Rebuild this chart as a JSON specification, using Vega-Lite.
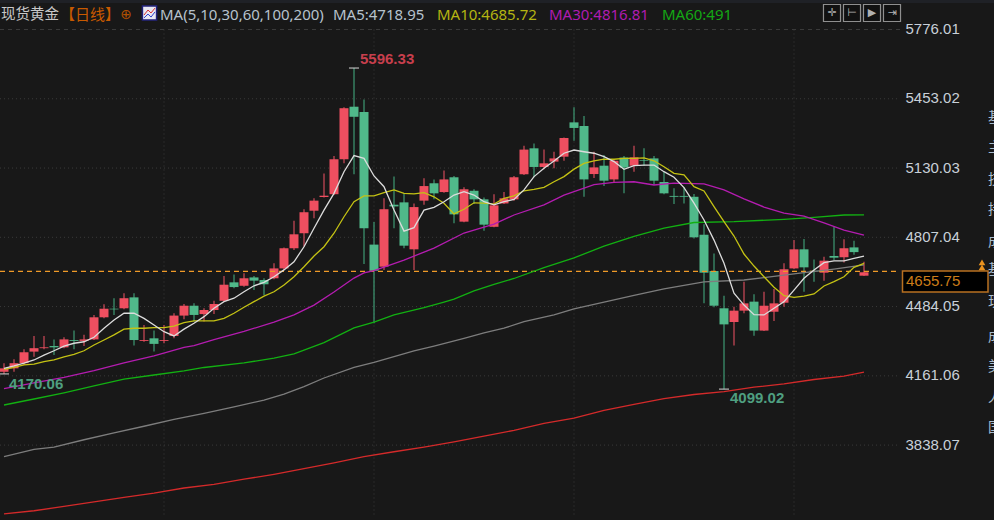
{"$schema":"https://vega.github.io/schema/vega-lite/v6.json","width":994,"height":520,"autosize":"none","padding":0,"background":"#181818","config":{"view":{"stroke":null}},
"datasets":{
"candles":[
{"i":0,"d":"u","o":4180,"h":4220,"l":4170.06,"c":4196},{"i":1,"d":"u","o":4196,"h":4238,"l":4180,"c":4220},{"i":2,"d":"u","o":4220,"h":4285,"l":4212,"c":4271},{"i":3,"d":"u","o":4274,"h":4347,"l":4250,"c":4290},{"i":4,"d":"u","o":4290,"h":4347,"l":4285,"c":4294},{"i":5,"d":"d","o":4300,"h":4331,"l":4258,"c":4294},{"i":6,"d":"u","o":4294,"h":4341,"l":4290,"c":4331},{"i":7,"d":"d","o":4328,"h":4372,"l":4285,"c":4324},{"i":8,"d":"u","o":4324,"h":4353,"l":4300,"c":4331},{"i":9,"d":"u","o":4331,"h":4445,"l":4328,"c":4434},
{"i":10,"d":"u","o":4434,"h":4495,"l":4429,"c":4474},{"i":11,"d":"d","o":4474,"h":4523,"l":4445,"c":4471},{"i":12,"d":"u","o":4476,"h":4546,"l":4471,"c":4523},{"i":13,"d":"d","o":4527,"h":4546,"l":4302,"c":4328},{"i":14,"d":"u","o":4324,"h":4398,"l":4320,"c":4328},{"i":15,"d":"d","o":4336,"h":4372,"l":4274,"c":4310},{"i":16,"d":"u","o":4324,"h":4398,"l":4313,"c":4328},{"i":17,"d":"u","o":4347,"h":4453,"l":4336,"c":4442},{"i":18,"d":"u","o":4442,"h":4496,"l":4425,"c":4488},{"i":19,"d":"d","o":4488,"h":4499,"l":4414,"c":4445},
{"i":20,"d":"u","o":4449,"h":4476,"l":4414,"c":4468},{"i":21,"d":"u","o":4468,"h":4511,"l":4449,"c":4496},{"i":22,"d":"u","o":4511,"h":4627,"l":4507,"c":4586},{"i":23,"d":"d","o":4597,"h":4634,"l":4569,"c":4575},{"i":24,"d":"u","o":4581,"h":4639,"l":4577,"c":4616},{"i":25,"d":"d","o":4620,"h":4627,"l":4561,"c":4605},{"i":26,"d":"d","o":4608,"h":4616,"l":4538,"c":4588},{"i":27,"d":"u","o":4616,"h":4686,"l":4611,"c":4662},{"i":28,"d":"u","o":4662,"h":4760,"l":4655,"c":4756},{"i":29,"d":"u","o":4756,"h":4884,"l":4748,"c":4821},
{"i":30,"d":"u","o":4826,"h":4938,"l":4763,"c":4924},{"i":31,"d":"u","o":4931,"h":4989,"l":4896,"c":4978},{"i":32,"d":"u","o":4995,"h":5105,"l":4993,"c":5001},{"i":33,"d":"u","o":5008,"h":5186,"l":5004,"c":5171},{"i":34,"d":"u","o":5171,"h":5413,"l":5152,"c":5409},{"i":35,"d":"d","o":5416,"h":5596.33,"l":5101,"c":5369},{"i":36,"d":"d","o":5391,"h":5450,"l":4683,"c":4849},{"i":37,"d":"d","o":4773,"h":4878,"l":4406,"c":4651},{"i":38,"d":"u","o":4670,"h":4989,"l":4655,"c":4938},{"i":39,"d":"d","o":4959,"h":5090,"l":4849,"c":4951},
{"i":40,"d":"d","o":4970,"h":5012,"l":4756,"c":4768},{"i":41,"d":"u","o":4751,"h":4965,"l":4655,"c":4948},{"i":42,"d":"u","o":4978,"h":5082,"l":4959,"c":5046},{"i":43,"d":"d","o":5059,"h":5077,"l":4984,"c":5012},{"i":44,"d":"u","o":5018,"h":5118,"l":5015,"c":5077},{"i":45,"d":"d","o":5087,"h":5093,"l":4872,"c":4914},{"i":46,"d":"u","o":4880,"h":5040,"l":4877,"c":5031},{"i":47,"d":"d","o":5024,"h":5031,"l":4962,"c":4984},{"i":48,"d":"d","o":4984,"h":4993,"l":4838,"c":4866},{"i":49,"d":"u","o":4856,"h":5008,"l":4854,"c":4956},
{"i":50,"d":"u","o":4965,"h":5018,"l":4962,"c":4989},{"i":51,"d":"u","o":4984,"h":5093,"l":4978,"c":5087},{"i":52,"d":"u","o":5101,"h":5234,"l":5098,"c":5216},{"i":53,"d":"d","o":5222,"h":5245,"l":5087,"c":5135},{"i":54,"d":"u","o":5135,"h":5217,"l":5124,"c":5152},{"i":55,"d":"u","o":5160,"h":5206,"l":5129,"c":5175},{"i":56,"d":"u","o":5183,"h":5273,"l":5164,"c":5270},{"i":57,"d":"d","o":5343,"h":5413,"l":5257,"c":5317},{"i":58,"d":"d","o":5326,"h":5373,"l":4996,"c":5077},{"i":59,"d":"u","o":5102,"h":5206,"l":5083,"c":5133},
{"i":60,"d":"d","o":5141,"h":5191,"l":5046,"c":5071},{"i":61,"d":"u","o":5077,"h":5171,"l":5065,"c":5164},{"i":62,"d":"d","o":5179,"h":5186,"l":5012,"c":5132},{"i":63,"d":"u","o":5141,"h":5234,"l":5113,"c":5180},{"i":64,"d":"d","o":5167,"h":5222,"l":5140,"c":5164},{"i":65,"d":"d","o":5175,"h":5186,"l":5051,"c":5071},{"i":66,"d":"d","o":5065,"h":5113,"l":5008,"c":5012},{"i":67,"d":"d","o":5000,"h":5036,"l":4962,"c":4996},{"i":68,"d":"d","o":5000,"h":5040,"l":4965,"c":4996},{"i":69,"d":"d","o":4996,"h":5009,"l":4802,"c":4807},
{"i":70,"d":"d","o":4819,"h":4868,"l":4499,"c":4642},{"i":71,"d":"d","o":4650,"h":4732,"l":4481,"c":4488},{"i":72,"d":"d","o":4476,"h":4535,"l":4099.02,"c":4401},{"i":73,"d":"u","o":4412,"h":4483,"l":4302,"c":4465},{"i":74,"d":"u","o":4465,"h":4600,"l":4453,"c":4499},{"i":75,"d":"d","o":4507,"h":4541,"l":4348,"c":4372},{"i":76,"d":"u","o":4372,"h":4553,"l":4370,"c":4488},{"i":77,"d":"u","o":4460,"h":4566,"l":4417,"c":4499},{"i":78,"d":"u","o":4502,"h":4686,"l":4483,"c":4658},{"i":79,"d":"u","o":4662,"h":4794,"l":4659,"c":4751},
{"i":80,"d":"d","o":4751,"h":4799,"l":4553,"c":4667},{"i":81,"d":"d","o":4651,"h":4704,"l":4600,"c":4648},{"i":82,"d":"u","o":4642,"h":4716,"l":4605,"c":4698},{"i":83,"d":"d","o":4720,"h":4856,"l":4701,"c":4712},{"i":84,"d":"u","o":4714,"h":4798,"l":4689,"c":4756},{"i":85,"d":"d","o":4760,"h":4791,"l":4726,"c":4738},{"i":86,"d":"u","o":4628,"h":4693,"l":4627,"c":4644}],
"ma5":[{"i":0,"v":4196},{"i":1,"v":4207},{"i":2,"v":4220},{"i":3,"v":4235},{"i":4,"v":4258},{"i":5,"v":4278},{"i":6,"v":4300},{"i":7,"v":4313},{"i":8,"v":4320},{"i":9,"v":4341},{"i":10,"v":4383},{"i":11,"v":4421},{"i":12,"v":4453},{"i":13,"v":4453},{"i":14,"v":4429},{"i":15,"v":4398},{"i":16,"v":4367},{"i":17,"v":4347},{"i":18,"v":4379},{"i":19,"v":4406},{"i":20,"v":4437},{"i":21,"v":4476},{"i":22,"v":4507},{"i":23,"v":4523},{"i":24,"v":4553},{"i":25,"v":4581},{"i":26,"v":4597},{"i":27,"v":4623},{"i":28,"v":4655},{"i":29,"v":4693},{"i":30,"v":4763},{"i":31,"v":4849},{"i":32,"v":4934},{"i":33,"v":5012},{"i":34,"v":5113},{"i":35,"v":5188},{"i":36,"v":5175},{"i":37,"v":5093},{"i":38,"v":5043},{"i":39,"v":4934},{"i":40,"v":4836},{"i":41,"v":4852},{"i":42,"v":4934},{"i":43,"v":4947},{"i":44,"v":4973},{"i":45,"v":5004},{"i":46,"v":5020},{"i":47,"v":5004},{"i":48,"v":4973},{"i":49,"v":4958},{"i":50,"v":4973},{"i":51,"v":4984},{"i":52,"v":5028},{"i":53,"v":5090},{"i":54,"v":5129},{"i":55,"v":5163},{"i":56,"v":5199},{"i":57,"v":5214},{"i":58,"v":5206},{"i":59,"v":5199},{"i":60,"v":5183},{"i":61,"v":5160},{"i":62,"v":5124},{"i":63,"v":5141},{"i":64,"v":5144},{"i":65,"v":5144},{"i":66,"v":5113},{"i":67,"v":5087},{"i":68,"v":5039},{"i":69,"v":4966},{"i":70,"v":4888},{"i":71,"v":4794},{"i":72,"v":4686},{"i":73,"v":4546},{"i":74,"v":4491},{"i":75,"v":4446},{"i":76,"v":4445},{"i":77,"v":4476},{"i":78,"v":4507},{"i":79,"v":4561},{"i":80,"v":4616},{"i":81,"v":4655},{"i":82,"v":4689},{"i":83,"v":4697},{"i":84,"v":4697},{"i":85,"v":4709},{"i":86,"v":4718.95}],
"ma10":[{"i":0,"v":4191},{"i":1,"v":4201},{"i":2,"v":4212},{"i":3,"v":4216},{"i":4,"v":4227},{"i":5,"v":4235},{"i":6,"v":4250},{"i":7,"v":4261},{"i":8,"v":4278},{"i":9,"v":4305},{"i":10,"v":4328},{"i":11,"v":4352},{"i":12,"v":4379},{"i":13,"v":4383},{"i":14,"v":4383},{"i":15,"v":4386},{"i":16,"v":4386},{"i":17,"v":4393},{"i":18,"v":4409},{"i":19,"v":4417},{"i":20,"v":4417},{"i":21,"v":4417},{"i":22,"v":4429},{"i":23,"v":4453},{"i":24,"v":4481},{"i":25,"v":4507},{"i":26,"v":4533},{"i":27,"v":4553},{"i":28,"v":4585},{"i":29,"v":4623},{"i":30,"v":4670},{"i":31,"v":4720},{"i":32,"v":4763},{"i":33,"v":4826},{"i":34,"v":4903},{"i":35,"v":4973},{"i":36,"v":5000},{"i":37,"v":5000},{"i":38,"v":5015},{"i":39,"v":5028},{"i":40,"v":5012},{"i":41,"v":5010},{"i":42,"v":5015},{"i":43,"v":4996},{"i":44,"v":4966},{"i":45,"v":4916},{"i":46,"v":4938},{"i":47,"v":4968},{"i":48,"v":4966},{"i":49,"v":4962},{"i":50,"v":4989},{"i":51,"v":5000},{"i":52,"v":5024},{"i":53,"v":5031},{"i":54,"v":5040},{"i":55,"v":5066},{"i":56,"v":5090},{"i":57,"v":5125},{"i":58,"v":5152},{"i":59,"v":5163},{"i":60,"v":5172},{"i":61,"v":5171},{"i":62,"v":5175},{"i":63,"v":5175},{"i":64,"v":5177},{"i":65,"v":5164},{"i":66,"v":5136},{"i":67,"v":5105},{"i":68,"v":5098},{"i":69,"v":5043},{"i":70,"v":5023},{"i":71,"v":4950},{"i":72,"v":4880},{"i":73,"v":4813},{"i":74,"v":4729},{"i":75,"v":4673},{"i":76,"v":4623},{"i":77,"v":4574},{"i":78,"v":4535},{"i":79,"v":4527},{"i":80,"v":4533},{"i":81,"v":4543},{"i":82,"v":4580},{"i":83,"v":4600},{"i":84,"v":4623},{"i":85,"v":4667},{"i":86,"v":4685.72}],
"ma30":[{"i":0,"v":4101},{"i":3,"v":4128},{"i":6,"v":4154},{"i":9,"v":4185},{"i":12,"v":4222},{"i":15,"v":4254},{"i":18,"v":4294},{"i":19,"v":4302},{"i":21,"v":4330},{"i":24,"v":4368},{"i":27,"v":4412},{"i":29,"v":4445},{"i":31,"v":4491},{"i":33,"v":4552},{"i":35,"v":4617},{"i":36,"v":4641},{"i":37,"v":4652},{"i":40,"v":4701},{"i":42,"v":4738},{"i":43,"v":4757},{"i":46,"v":4827},{"i":49,"v":4869},{"i":51,"v":4911},{"i":54,"v":4958},{"i":56,"v":5004},{"i":59,"v":5053},{"i":61,"v":5063},{"i":63,"v":5066},{"i":65,"v":5051},{"i":67,"v":5060},{"i":70,"v":5056},{"i":72,"v":5028},{"i":74,"v":4986},{"i":76,"v":4948},{"i":78,"v":4920},{"i":80,"v":4906},{"i":82,"v":4874},{"i":84,"v":4841},{"i":86,"v":4816.81}],
"ma60":[{"i":0,"v":4025},{"i":3,"v":4053},{"i":6,"v":4082},{"i":9,"v":4114},{"i":12,"v":4146},{"i":15,"v":4165},{"i":18,"v":4184},{"i":20,"v":4200},{"i":24,"v":4221},{"i":27,"v":4244},{"i":29,"v":4263},{"i":32,"v":4316},{"i":35,"v":4385},{"i":37,"v":4411},{"i":39,"v":4445},{"i":42,"v":4479},{"i":44,"v":4505},{"i":45,"v":4519},{"i":47,"v":4557},{"i":49,"v":4587},{"i":51,"v":4615},{"i":54,"v":4666},{"i":57,"v":4711},{"i":60,"v":4766},{"i":63,"v":4811},{"i":66,"v":4850},{"i":69,"v":4876},{"i":73,"v":4880},{"i":78,"v":4891},{"i":81,"v":4900},{"i":84,"v":4911},{"i":86,"v":4912}],
"ma100":[{"i":0,"v":3784},{"i":3,"v":3818},{"i":5,"v":3829},{"i":8,"v":3863},{"i":11,"v":3895},{"i":14,"v":3926},{"i":17,"v":3958},{"i":20,"v":3986},{"i":23,"v":4016},{"i":26,"v":4048},{"i":28,"v":4076},{"i":30,"v":4111},{"i":32,"v":4151},{"i":35,"v":4201},{"i":37,"v":4224},{"i":41,"v":4277},{"i":43,"v":4300},{"i":46,"v":4336},{"i":48,"v":4361},{"i":50,"v":4383},{"i":52,"v":4414},{"i":55,"v":4445},{"i":57,"v":4473},{"i":60,"v":4505},{"i":63,"v":4536},{"i":66,"v":4567},{"i":70,"v":4599},{"i":74,"v":4608},{"i":77,"v":4625},{"i":80,"v":4642},{"i":83,"v":4659},{"i":86,"v":4678}],
"ma200":[{"i":0,"v":3517},{"i":3,"v":3532},{"i":6,"v":3552},{"i":9,"v":3573},{"i":12,"v":3594},{"i":15,"v":3614},{"i":18,"v":3638},{"i":21,"v":3655},{"i":24,"v":3679},{"i":27,"v":3702},{"i":30,"v":3728},{"i":33,"v":3755},{"i":36,"v":3784},{"i":39,"v":3807},{"i":42,"v":3829},{"i":45,"v":3853},{"i":48,"v":3880},{"i":51,"v":3907},{"i":54,"v":3939},{"i":57,"v":3964},{"i":60,"v":4000},{"i":63,"v":4028},{"i":66,"v":4055},{"i":69,"v":4074},{"i":72,"v":4087},{"i":75,"v":4108},{"i":78,"v":4124},{"i":81,"v":4144},{"i":84,"v":4160},{"i":86,"v":4178}]
},
"layer":[
{"data":{"values":[{"a":-0.4,"b":99,"p":5899.6,"q":5913.6}]},"mark":{"type":"rect","fill":"#1f2126"},"encoding":{"x":{"field":"a","type":"quantitative","scale":{"domain":[-0.4,99],"nice":false,"zero":false,"padding":0},"axis":null},"x2":{"field":"b"},"y":{"field":"p","type":"quantitative","scale":{"domain":[3488.8,5913.6],"nice":false,"zero":false,"padding":0},"axis":{"orient":"right","offset":-89,"values":[5776.01,5453.02,5130.03,4807.04,4484.05,4161.06,3838.07],"format":".2f","domain":false,"ticks":false,"grid":false,"title":null,"labelPadding":0,"labelOffset":-1,"labelFont":"Liberation Sans","labelFontSize":15,"labelColor":"#c9d0d8","labelAlign":"left","labelBaseline":"middle"}},"y2":{"field":"q"}}},
{"data":{"values":[{"p":5453.02},{"p":5130.03},{"p":4807.04},{"p":4484.05},{"p":4161.06},{"p":3838.07}]},"mark":{"type":"rule","color":"#3a3a3a","strokeDash":[1,3],"strokeWidth":1},"encoding":{"x":{"datum":-0.4,"type":"quantitative"},"x2":{"datum":89.6},"y":{"field":"p","type":"quantitative"}}},
{"data":{"values":[{"p":5776.01}]},"mark":{"type":"rule","color":"#3a3a3a","strokeDash":[4,4],"strokeWidth":1},"encoding":{"x":{"datum":-0.4,"type":"quantitative"},"x2":{"datum":89.6},"y":{"field":"p","type":"quantitative"}}},
{"data":{"values":[{"i":16},{"i":37},{"i":57},{"i":79}]},"mark":{"type":"rule","color":"#3a3a3a","strokeDash":[1,3],"strokeWidth":1},"encoding":{"x":{"field":"i","type":"quantitative"},"y":{"datum":5776.01,"type":"quantitative"},"y2":{"datum":3512}}},
{"data":{"name":"candles"},"mark":{"type":"rule","strokeWidth":1.2},"encoding":{"x":{"field":"i","type":"quantitative"},"y":{"field":"l","type":"quantitative"},"y2":{"field":"h"},"color":{"field":"d","type":"nominal","scale":{"domain":["u","d"],"range":["#d04a5a","#3f9a74"]},"legend":null}}},
{"data":{"name":"candles"},"mark":{"type":"bar","orient":"vertical","size":9},"encoding":{"x":{"field":"i","type":"quantitative"},"y":{"field":"o","type":"quantitative"},"y2":{"field":"c"},"fill":{"field":"d","type":"nominal","scale":{"domain":["u","d"],"range":["#ef4f60","#50b98a"]},"legend":null}}},
{"data":{"values":[{"p":4648}]},"mark":{"type":"rule","stroke":"#f09a28","opacity":1,"strokeDash":[5,4],"strokeWidth":1.4},"encoding":{"x":{"datum":-0.4,"type":"quantitative"},"x2":{"datum":89.6},"y":{"field":"p","type":"quantitative"},"color":{"value":"#f09a28"}}},
{"data":{"name":"ma200"},"mark":{"type":"line","stroke":"#d42a2a","strokeWidth":1.3},"encoding":{"x":{"field":"i","type":"quantitative"},"y":{"field":"v","type":"quantitative"}}},
{"data":{"name":"ma100"},"mark":{"type":"line","stroke":"#7d7d7d","strokeWidth":1.3},"encoding":{"x":{"field":"i","type":"quantitative"},"y":{"field":"v","type":"quantitative"}}},
{"data":{"name":"ma60"},"mark":{"type":"line","stroke":"#12b012","strokeWidth":1.3},"encoding":{"x":{"field":"i","type":"quantitative"},"y":{"field":"v","type":"quantitative"}}},
{"data":{"name":"ma30"},"mark":{"type":"line","stroke":"#b41cb0","strokeWidth":1.3},"encoding":{"x":{"field":"i","type":"quantitative"},"y":{"field":"v","type":"quantitative"}}},
{"data":{"name":"ma10"},"mark":{"type":"line","stroke":"#c4c214","strokeWidth":1.3},"encoding":{"x":{"field":"i","type":"quantitative"},"y":{"field":"v","type":"quantitative"}}},
{"data":{"name":"ma5"},"mark":{"type":"line","stroke":"#dcdcdc","strokeWidth":1.3},"encoding":{"x":{"field":"i","type":"quantitative"},"y":{"field":"v","type":"quantitative"}}},
{"data":{"values":[{"i":0,"p":4170.06},{"i":35,"p":5596.33},{"i":72,"p":4099.02}]},"mark":{"type":"tick","orient":"horizontal","size":10,"thickness":1.5,"color":"#cfcfcf"},"encoding":{"x":{"field":"i","type":"quantitative"},"y":{"field":"p","type":"quantitative"}}},
{"data":{"values":[{"i":35.6,"p":5638,"t":"5596.33"}]},"mark":{"type":"text","align":"left","baseline":"middle","font":"Liberation Sans","fontSize":15,"fontWeight":"bold","fill":"#c73f4d"},"encoding":{"x":{"field":"i","type":"quantitative"},"y":{"field":"p","type":"quantitative"},"text":{"field":"t"}}},
{"data":{"values":[{"i":72.6,"p":4058,"t":"4099.02"},{"i":0.5,"p":4123,"t":"4170.06"}]},"mark":{"type":"text","align":"left","baseline":"middle","font":"Liberation Sans","fontSize":15,"fontWeight":"bold","fill":"#4f9f80"},"encoding":{"x":{"field":"i","type":"quantitative"},"y":{"field":"p","type":"quantitative"},"text":{"field":"t"}}},
{"data":{"values":[{"a":89.85,"b":98.4,"p":4650,"q":4552}]},"mark":{"type":"rect","fill":"#000000","stroke":"#b87020","strokeWidth":1.5},"encoding":{"x":{"field":"a","type":"quantitative"},"x2":{"field":"b"},"y":{"field":"p","type":"quantitative"},"y2":{"field":"q"}}},
{"data":{"values":[{"i":90.2,"p":4601,"t":"4655.75"}]},"mark":{"type":"text","align":"left","baseline":"middle","font":"Liberation Sans","fontSize":15,"fill":"#cc7c18"},"encoding":{"x":{"field":"i","type":"quantitative"},"y":{"field":"p","type":"quantitative"},"text":{"field":"t"}}},
{"data":{"values":[{"i":97.8,"p":4690},{"i":97.8,"p":4667}]},"mark":{"type":"point","shape":"triangle-up","filled":true,"size":45,"color":"#e8921f","opacity":1},"encoding":{"x":{"field":"i","type":"quantitative"},"y":{"field":"p","type":"quantitative"}}},
{"data":{"values":[{"i":98.4,"p":5363,"t":"基"},{"i":98.4,"p":5223,"t":"主"},{"i":98.4,"p":5074,"t":"技"},{"i":98.4,"p":4934,"t":"持"},{"i":98.4,"p":4785,"t":"成"},{"i":98.4,"p":4655,"t":"基"},{"i":98.4,"p":4505,"t":"现"},{"i":98.4,"p":4342,"t":"成"},{"i":98.4,"p":4202,"t":"美"},{"i":98.4,"p":4058,"t":"人"},{"i":98.4,"p":3918,"t":"国"}]},"mark":{"type":"text","align":"left","baseline":"middle","font":"Noto Sans CJK SC","fontSize":14,"fill":"#a9bccf"},"encoding":{"x":{"field":"i","type":"quantitative"},"y":{"field":"p","type":"quantitative"},"text":{"field":"t"}}},
{"data":{"values":[{"i":-0.3,"p":5843.6,"t":"现货黄金"}]},"mark":{"type":"text","align":"left","baseline":"middle","font":"Noto Sans CJK SC","fontSize":14.5,"fill":"#c8c8c8"},"encoding":{"x":{"field":"i","type":"quantitative"},"y":{"field":"p","type":"quantitative"},"text":{"field":"t"}}},
{"data":{"values":[{"i":5.6,"p":5843.6,"t":"【日线】"}]},"mark":{"type":"text","align":"left","baseline":"middle","font":"Noto Sans CJK SC","fontSize":15,"fill":"#c85a00"},"encoding":{"x":{"field":"i","type":"quantitative"},"y":{"field":"p","type":"quantitative"},"text":{"field":"t"}}},
{"data":{"values":[{"i":12.2,"p":5843.6,"t":"⊕"}]},"mark":{"type":"text","align":"center","baseline":"middle","font":"DejaVu Sans","fontSize":14,"fill":"#b05000"},"encoding":{"x":{"field":"i","type":"quantitative"},"y":{"field":"p","type":"quantitative"},"text":{"field":"t"}}},
{"data":{"values":[{"i":14.55,"p":5853}]},"mark":{"type":"point","shape":"square","filled":true,"size":200,"fill":"#e8e8f2","stroke":"#20207a","strokeWidth":1.5,"opacity":1},"encoding":{"x":{"field":"i","type":"quantitative"},"y":{"field":"p","type":"quantitative"}}},
{"data":{"values":[{"i":14,"p":5843.6},{"i":14.4,"p":5867},{"i":14.7,"p":5853},{"i":15.1,"p":5876}]},"mark":{"type":"line","stroke":"#d83030","strokeWidth":1},"encoding":{"x":{"field":"i","type":"quantitative"},"y":{"field":"p","type":"quantitative"}}},
{"data":{"values":[{"i":14,"p":5830},{"i":14.4,"p":5848},{"i":14.7,"p":5834},{"i":15.1,"p":5858}]},"mark":{"type":"line","stroke":"#3040d0","strokeWidth":1},"encoding":{"x":{"field":"i","type":"quantitative"},"y":{"field":"p","type":"quantitative"}}},
{"data":{"values":[{"i":15.6,"p":5843.6,"t":"MA(5,10,30,60,100,200)"},{"i":32.9,"p":5843.6,"t":"MA5:4718.95"}]},"mark":{"type":"text","align":"left","baseline":"middle","font":"Noto Sans","fontSize":15,"fill":"#b6c2cd"},"encoding":{"x":{"field":"i","type":"quantitative"},"y":{"field":"p","type":"quantitative"},"text":{"field":"t"}}},
{"data":{"values":[{"i":43.3,"p":5843.6,"t":"MA10:4685.72"}]},"mark":{"type":"text","align":"left","baseline":"middle","font":"Noto Sans","fontSize":15,"fill":"#b4b412"},"encoding":{"x":{"field":"i","type":"quantitative"},"y":{"field":"p","type":"quantitative"},"text":{"field":"t"}}},
{"data":{"values":[{"i":54.5,"p":5843.6,"t":"MA30:4816.81"}]},"mark":{"type":"text","align":"left","baseline":"middle","font":"Noto Sans","fontSize":15,"fill":"#b01cb0"},"encoding":{"x":{"field":"i","type":"quantitative"},"y":{"field":"p","type":"quantitative"},"text":{"field":"t"}}},
{"data":{"values":[{"i":65.8,"p":5843.6,"t":"MA60:491"}]},"mark":{"type":"text","align":"left","baseline":"middle","font":"Noto Sans","fontSize":15,"fill":"#14a814"},"encoding":{"x":{"field":"i","type":"quantitative"},"y":{"field":"p","type":"quantitative"},"text":{"field":"t"}}},
{"data":{"values":[{"i":82.8,"p":5853},{"i":84.8,"p":5853},{"i":86.8,"p":5853},{"i":88.8,"p":5853}]},"mark":{"type":"point","shape":"square","filled":true,"size":290,"fill":"#111111","stroke":"#8f8f8f","strokeWidth":1.2,"opacity":1},"encoding":{"x":{"field":"i","type":"quantitative"},"y":{"field":"p","type":"quantitative"}}},
{"data":{"values":[{"i":82.8,"p":5853,"t":"✛"},{"i":84.8,"p":5853,"t":"⊢"},{"i":86.8,"p":5853,"t":"▶"},{"i":88.8,"p":5853,"t":"⇥"}]},"mark":{"type":"text","align":"center","baseline":"middle","font":"DejaVu Sans","fontSize":11,"fill":"#b0b0b0"},"encoding":{"x":{"field":"i","type":"quantitative"},"y":{"field":"p","type":"quantitative"},"text":{"field":"t"}}}
]}
